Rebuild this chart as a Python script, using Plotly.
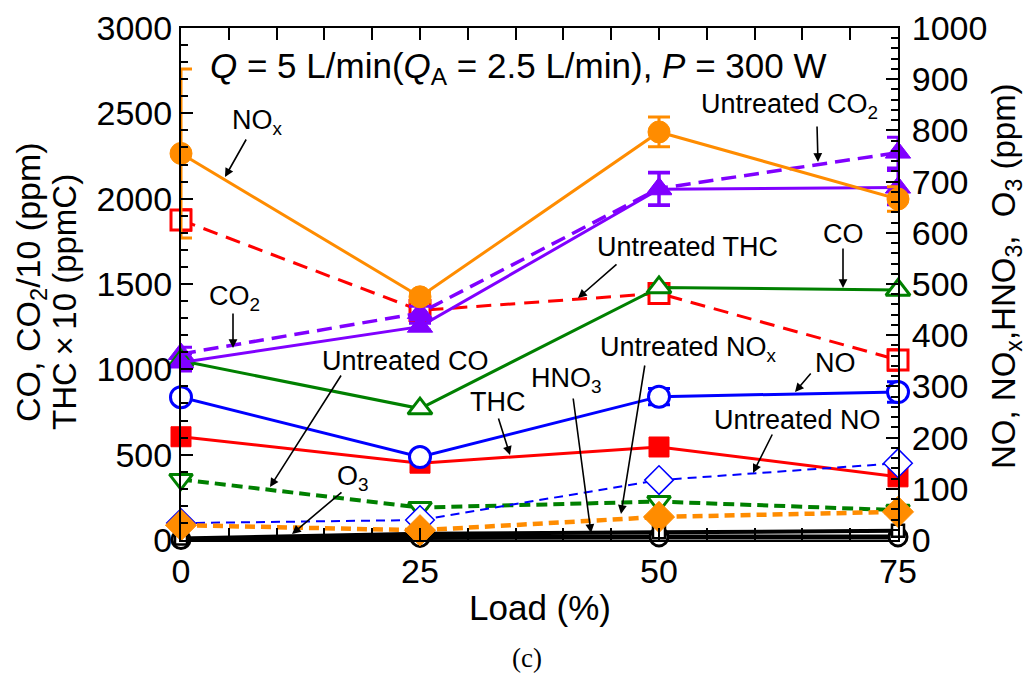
import plotly.graph_objects as go

# ---------------- data ----------------
load = [0, 25, 50, 75]

# left axis (CO, CO2/10, THC x10)
co2 = [1040, 1250, 2055, 2065]
co2_err = [50, 20, 95, 100]
untreated_co2 = [1090, 1330, 2060, 2270]
untreated_co2_err = [40, 40, 95, 90]
co = [1050, 770, 1480, 1465]
untreated_co = [355, 190, 225, 175]
thc = [605, 450, 545, 370]
untreated_thc = [1875, 1345, 1445, 1055]
untreated_thc_err = [60, 30, 30, 60]

# right axis (NO, NOx, HNO3, O3)
nox = [755, 475, 797, 666]
nox_err = [165, 10, 29, 24]
untreated_nox = [29, 19, 45, 55]
no = [279, 162, 280, 289]
no_err = [5, 5, 16, 20]
untreated_no = [33, 39, 117, 150]
o3 = [3, 12, 15, 18]
hno3 = [1, 5, 6, 6]

x_ticks = [0, 25, 50, 75]

ORANGE = "#FF8C00"
PURPLE = "#8000FF"
RED = "#FF0000"
GREEN = "#008000"
BLUE = "#0000FF"
BLACK = "#000000"
FONT = "Liberation Sans, Arial, sans-serif"

fig = go.Figure()


def add(y, axis, color, symbol, size, dash, lw, fill, mlw, err=None, name=""):
    marker = dict(symbol=symbol, size=size, color=fill, line=dict(color=color, width=mlw))
    kw = {}
    if err is not None:
        kw["error_y"] = dict(type="data", array=err, visible=True, color=color, thickness=3, width=11)
    fig.add_trace(go.Scatter(
        x=load, y=y, yaxis=axis, mode="lines+markers", name=name,
        line=dict(color=color, width=lw, dash=dash), marker=marker,
        cliponaxis=False, **kw))


# left-axis traces (drawn below)
add(untreated_co, "y", GREEN, "triangle-down", 20, "11px,6px", 4, "white", 3, name="Untreated CO")
add(untreated_thc, "y", RED, "square", 20, "15px,9px", 3, "white", 3, untreated_thc_err, name="Untreated THC")
add(untreated_co2, "y", PURPLE, "triangle-up", 22, "15px,8px", 3.5, PURPLE, 1, untreated_co2_err, name="Untreated CO2")
add(thc, "y", RED, "square", 20, "solid", 3, RED, 1, name="THC")
add(co, "y", GREEN, "triangle-up", 21, "solid", 3, "white", 3, name="CO")
add(co2, "y", PURPLE, "triangle-up", 22, "solid", 3, PURPLE, 1, co2_err, name="CO2")

# right-axis traces
add(hno3, "y2", BLACK, "circle", 18, "solid", 5, "white", 3, name="HNO3")
add(o3, "y2", BLACK, "square", 12, "solid", 4, "white", 2.5, name="O3")
add(untreated_no, "y2", BLUE, "diamond", 22, "9px,6px", 2, "white", 1.5, name="Untreated NO")
add(untreated_nox, "y2", ORANGE, "diamond", 24, "10px,6px", 4.5, ORANGE, 1, name="Untreated NOx")
add(no, "y2", BLUE, "circle", 21, "solid", 3, "white", 3, no_err, name="NO")
add(nox, "y2", ORANGE, "circle", 22, "solid", 3, ORANGE, 1, nox_err, name="NOx")

# --------------- layout helpers ---------------
L, R, T, B = 181, 898, 28, 540


def P(px, py):
    return (px - L) / (R - L), (B - py) / (B - T)


annotations = []


def text(s, px, py, size=27, angle=0, family=FONT):
    x, y = P(px, py)
    annotations.append(dict(text=s, x=x, y=y, xref="paper", yref="paper", showarrow=False,
                            xanchor="center", yanchor="middle", textangle=angle,
                            font=dict(size=size, color="black", family=family)))


def arrow(tx, ty, hx, hy):
    x, y = P(hx, hy)
    annotations.append(dict(text="", x=x, y=y, xref="paper", yref="paper", showarrow=True,
                            ax=tx - hx, ay=ty - hy, arrowhead=2, arrowsize=1.1,
                            arrowwidth=1.6, arrowcolor="black", standoff=0))


text("<i>Q</i> = 5 L/min(<i>Q</i><sub>A</sub> = 2.5 L/min), <i>P</i> = 300 W", 518, 68, size=35)
text("NO<sub>x</sub>", 257, 122)
arrow(247, 138, 225, 177)
text("Untreated CO<sub>2</sub>", 789, 106)
arrow(817, 125, 818, 162)
text("CO<sub>2</sub>", 234, 298)
arrow(233, 312, 233, 348)
text("Untreated CO", 405, 361)
arrow(342, 374, 270, 487)
text("O<sub>3</sub>", 353, 478)
arrow(343, 491, 292, 534)
text("THC", 498, 402)
arrow(498, 417, 510, 455)
text("HNO<sub>3</sub>", 566, 380)
arrow(573, 397, 591, 533)
text("Untreated NO<sub>x</sub>", 688, 349)
arrow(645, 364, 621, 514)
text("Untreated THC", 687, 247)
arrow(618, 263, 578, 298)
text("CO", 843, 234)
arrow(843, 247, 843, 288)
text("NO", 835, 363)
arrow(812, 372, 795, 392)
text("Untreated NO", 797, 420)
arrow(773, 433, 753, 473)

# axis titles
text("Load (%)", 540, 607, size=35)
text("(c)", 527, 658, size=27, family="Liberation Serif, Times New Roman, serif")
text("CO, CO<sub>2</sub>/10 (ppm)", 30, 282, size=34, angle=-90)
text("THC\u2009\u00d7\u200910 (ppmC)", 64, 302, size=33, angle=-90)
text("NO, NO<sub>x</sub>,HNO<sub>3</sub>,  O<sub>3</sub> (ppm)", 1006, 276, size=33, angle=-90)

axis_common = dict(
    ticks="inside", ticklen=12, tickwidth=2, tickcolor="black",
    showline=True, linewidth=2, linecolor="black",
    showgrid=False, zeroline=False, automargin=False,
    tickfont=dict(size=34, color="black", family=FONT),
)

fig.update_layout(
    width=1028, height=677,
    margin=dict(l=L, r=1028 - R, t=T, b=677 - B),
    paper_bgcolor="white", plot_bgcolor="white",
    showlegend=False,
    font=dict(family=FONT, color="black"),
    xaxis=dict(range=[0, 75], tickvals=x_ticks, mirror="allticks",
               minor=dict(dtick=5, ticks="inside", ticklen=7, tickwidth=1.5, tickcolor="black"),
               **axis_common),
    yaxis=dict(range=[0, 3000], dtick=500, ticklabelstandoff=0,
               minor=dict(dtick=100, ticks="inside", ticklen=7, tickwidth=1.5, tickcolor="black"),
               **axis_common),
    yaxis2=dict(range=[0, 1000], dtick=100, overlaying="y", side="right", ticklabelstandoff=5,
                minor=dict(dtick=20, ticks="inside", ticklen=7, tickwidth=1.5, tickcolor="black"),
                **axis_common),
    annotations=annotations,
)

fig.write_html(
    "out.html",
    config={"displayModeBar": False},
    post_script="document.body.style.margin='0px';document.body.style.overflow='hidden';",
)
